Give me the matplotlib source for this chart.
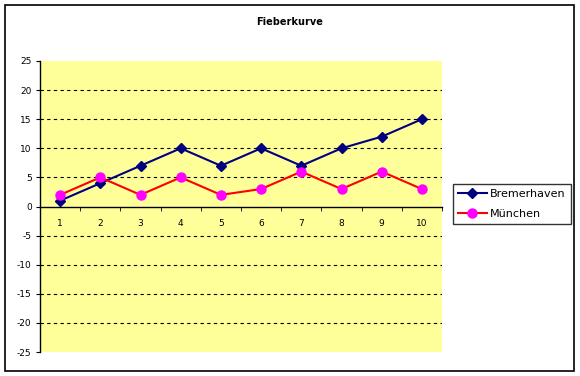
import matplotlib
matplotlib.use("Agg")
import matplotlib.pyplot as plt
from matplotlib.patches import Rectangle

categories = [1, 2, 3, 4, 5, 6, 7, 8, 9, 10]
bremerhaven = [1, 4, 7, 10, 7, 10, 7, 10, 12, 15]
muenchen = [2, 5, 2, 5, 2, 3, 6, 3, 6, 3]
yticks = [-25, -20, -15, -10, -5, 0, 5, 10, 15, 20, 25]

fig = plt.figure(figsize=(5.8, 3.76), dpi=100)
fig.patch.set_facecolor("white")
fig.patches.append(Rectangle((5/580, 1-371/376), 569/580, 366/376, transform=fig.transFigure,
                             fill=False, edgecolor="black", linewidth=1.2))

ax = fig.add_axes([40/580, 1-352/376, 402/580, 291/376])
ax.set_facecolor("#FFFF99")
x = list(range(1, len(categories)+1))
ax.plot(x, bremerhaven, color="#000080", marker="D", markersize=5, linewidth=1.5, label="Bremerhaven", zorder=3)
ax.plot(x, muenchen, color="#FF0000", marker="o", markersize=6.5, markerfacecolor="#FF00FF",
        markeredgecolor="#FF00FF", linewidth=1.5, label="München", zorder=3)

ax.set_xlim(0.5, len(categories)+0.5)
ax.set_ylim(-25, 25)
ax.set_yticks(yticks)
ax.set_yticklabels([str(v) for v in yticks])
for v in yticks:
    if v not in (0, 25, -25):
        ax.axhline(v, color="black", linestyle=(0, (3, 3)), linewidth=0.8, zorder=1)

ax.set_xticks(x)
ax.set_xticklabels([str(c) for c in categories])
ax.set_xticks([i + 0.5 for i in range(0, len(categories)+1)], minor=True)
ax.tick_params(axis="x", which="major", length=0, pad=9, labelsize=6.5)
ax.tick_params(axis="x", which="minor", length=3, direction="out")
ax.tick_params(axis="y", length=3, direction="out", pad=3, labelsize=6.5)

ax.spines["bottom"].set_position(("data", 0))
ax.spines["top"].set_visible(False)
ax.spines["right"].set_visible(False)
for s in ("bottom", "left"):
    ax.spines[s].set_linewidth(1)

fig.text(290/580, 1-22/376, "Fieberkurve", ha="center", va="center", fontsize=7, fontweight="bold")

leg = fig.legend(loc="upper left", bbox_to_anchor=(453/580, 1-184/376), fontsize=8,
                 frameon=True, fancybox=False, edgecolor="black", borderpad=0.45,
                 handlelength=2.6, handletextpad=0.3, labelspacing=0.9, borderaxespad=0)
leg.get_frame().set_linewidth(1)

fig.savefig("out.png", dpi=100)
